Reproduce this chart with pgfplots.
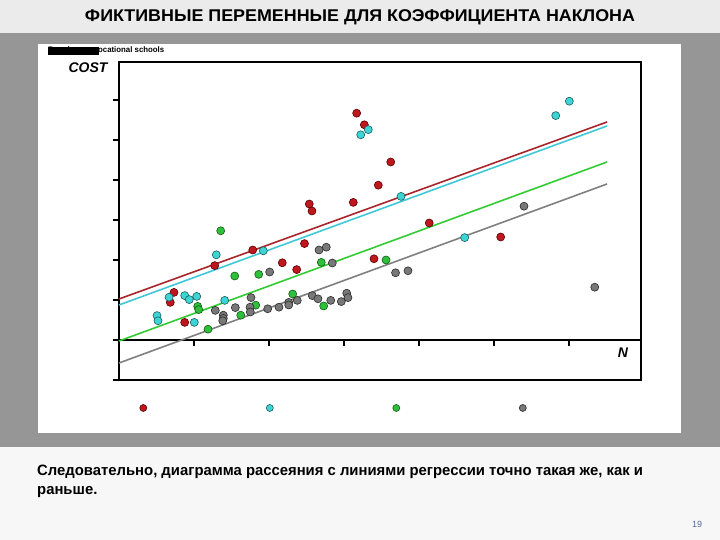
\documentclass[border=0pt]{standalone}
\usepackage{pgfplots}
\pgfplotsset{compat=1.18}
\usepackage{fontspec}
\setmainfont{Liberation Sans}
\usepackage{graphicx}
\definecolor{topband}{HTML}{EBEBEB}
\definecolor{midband}{HTML}{969696}
\definecolor{botband}{HTML}{F7F7F7}
\definecolor{redm}{HTML}{C0161E}
\definecolor{redb}{HTML}{5A0000}
\definecolor{redline}{HTML}{A8262B}
\definecolor{cyanm}{HTML}{3CD4D4}
\definecolor{cyanb}{HTML}{1A5E60}
\definecolor{cyanline}{HTML}{40C8D8}
\definecolor{greenm}{HTML}{2EC03A}
\definecolor{greenb}{HTML}{145A14}
\definecolor{greenline}{HTML}{33CC33}
\definecolor{graym}{HTML}{787878}
\definecolor{grayb}{HTML}{2A2A2A}
\definecolor{grayline}{HTML}{808080}
\definecolor{pagenum}{HTML}{4F6A9A}
\begin{document}
\begin{tikzpicture}[x=1bp,y=1bp]
\useasboundingbox (0,0) rectangle (720,540);
\fill[topband] (0,507) rectangle (720,540);
\fill[midband] (0,93) rectangle (720,507);
\fill[botband] (0,0) rectangle (720,93);
\fill[white] (38,107) rectangle (681,496);
\node at (360,522.5) {\resizebox{550bp}{\height}{\fontsize{17bp}{20bp}\selectfont\bfseries ФИКТИВНЫЕ ПЕРЕМЕННЫЕ ДЛЯ КОЭФФИЦИЕНТА НАКЛОНА}};
% garbled legend text
\node[anchor=west,inner sep=0pt] at (48,489.5) {\resizebox{116bp}{\height}{\fontsize{8bp}{9bp}\selectfont\bfseries Regular nonvocational schools}};
\fill[black] (48,485) rectangle (99,493);
\node at (88,472) {\fontsize{14bp}{16bp}\selectfont\bfseries\itshape COST};
\node at (623,187) {\fontsize{14bp}{16bp}\selectfont\bfseries\itshape N};
\begin{axis}[
  at={(119bp,160bp)}, anchor=south west,
  scale only axis, width=522bp, height=318bp,
  xmin=0, xmax=6.96, ymin=-1, ymax=6.95,
  axis line style={line width=1.2bp},
  xtick=\empty,
  ytick={-1,0,...,6}, yticklabels={},
  ytick pos=left, tick align=outside,
  major tick length=6bp,
  tick style={line width=1.2bp,black},
  clip=false,
  legend columns=4,
  legend style={at={(0.411,-0.088)}, anchor=center, draw=none, fill=none,
    nodes={inner sep=0pt},
    /tikz/every even column/.append style={column sep=118.5bp}},
  legend image code/.code={\draw[#1, mark size=3.5bp] plot coordinates {(0,0)};},
]
% x axis at y=0 with ticks
\draw[line width=1.2bp] (axis cs:0,0) -- (axis cs:6.96,0);
\draw[line width=1.2bp] (axis cs:1,0) -- ([yshift=-6bp]axis cs:1,0);
\draw[line width=1.2bp] (axis cs:2,0) -- ([yshift=-6bp]axis cs:2,0);
\draw[line width=1.2bp] (axis cs:3,0) -- ([yshift=-6bp]axis cs:3,0);
\draw[line width=1.2bp] (axis cs:4,0) -- ([yshift=-6bp]axis cs:4,0);
\draw[line width=1.2bp] (axis cs:5,0) -- ([yshift=-6bp]axis cs:5,0);
\draw[line width=1.2bp] (axis cs:6,0) -- ([yshift=-6bp]axis cs:6,0);
% regression lines
\addplot[forget plot, redline, line width=1.6bp] coordinates {(0,1.025) (6.507,5.45)};
\addplot[forget plot, cyanline, line width=1.6bp] coordinates {(0,0.875) (6.507,5.35)};
\addplot[forget plot, greenline, line width=1.6bp] coordinates {(0,-0.025) (6.507,4.45)};
\addplot[forget plot, grayline, line width=1.6bp] coordinates {(0,-0.575) (6.507,3.90)};
% scatter
\addplot[only marks, mark=*, mark size=4bp, mark options={fill=redm, draw=redb, line width=0.6bp}] coordinates {
(2.537,3.40) (2.573,3.225) (3.124,3.44) (0.733,1.19) (0.684,0.94) (0.876,0.44)
(1.276,1.86) (1.783,2.25) (2.177,1.93) (2.369,1.76) (2.473,2.41) (3.40,2.03)
(3.169,5.67) (3.271,5.38) (3.623,4.45) (3.457,3.87) (4.136,2.925) (5.089,2.575)};
\addlegendentry{\hbox{}}
\addplot[only marks, mark=*, mark size=4bp, mark options={fill=cyanm, draw=cyanb, line width=0.6bp}] coordinates {
(0.507,0.61) (0.52,0.48) (0.667,1.07) (0.876,1.11) (0.937,1.01) (1.036,1.09)
(1.004,0.44) (1.409,0.99) (1.297,2.13) (1.924,2.23) (3.223,5.13) (3.324,5.26)
(3.76,3.59) (5.823,5.61) (6.004,5.97) (4.609,2.56)};
\addlegendentry{\hbox{}}
\addplot[only marks, mark=*, mark size=4bp, mark options={fill=greenm, draw=greenb, line width=0.6bp}] coordinates {
(1.356,2.73) (1.543,1.60) (1.863,1.64) (1.049,0.84) (1.063,0.76) (1.187,0.27)
(1.623,0.62) (1.823,0.87) (2.316,1.15) (2.697,1.94) (2.729,0.85) (3.56,2.00)};
\addlegendentry{\hbox{}}
\addplot[only marks, mark=*, mark size=4bp, mark options={fill=graym, draw=grayb, line width=0.6bp}] coordinates {
(1.284,0.74) (1.391,0.62) (1.391,0.54) (1.383,0.48) (1.551,0.81) (1.76,1.06)
(1.747,0.82) (1.751,0.70) (2.009,1.70) (1.983,0.78) (2.133,0.82) (2.263,0.94)
(2.263,0.875) (2.377,0.99) (2.577,1.11) (2.653,1.03) (2.667,2.25) (2.764,2.32)
(2.823,0.99) (2.844,1.925) (2.964,0.96) (3.036,1.17) (3.053,1.06) (3.687,1.68)
(3.853,1.73) (5.40,3.345) (6.343,1.32)};
\addlegendentry{\hbox{}}
\end{axis}
\node[anchor=west,inner sep=0pt] at (37,68) {\scalebox{0.99}[1]{\fontsize{15bp}{18bp}\selectfont\bfseries Следовательно, диаграмма рассеяния с линиями регрессии точно такая же, как и}};
\node[anchor=west,inner sep=0pt] at (37,48) {\scalebox{0.99}[1]{\fontsize{15bp}{18bp}\selectfont\bfseries раньше.}};
\node[text=pagenum] at (697,16) {\fontsize{9bp}{10bp}\selectfont 19};
\end{tikzpicture}
\end{document}
